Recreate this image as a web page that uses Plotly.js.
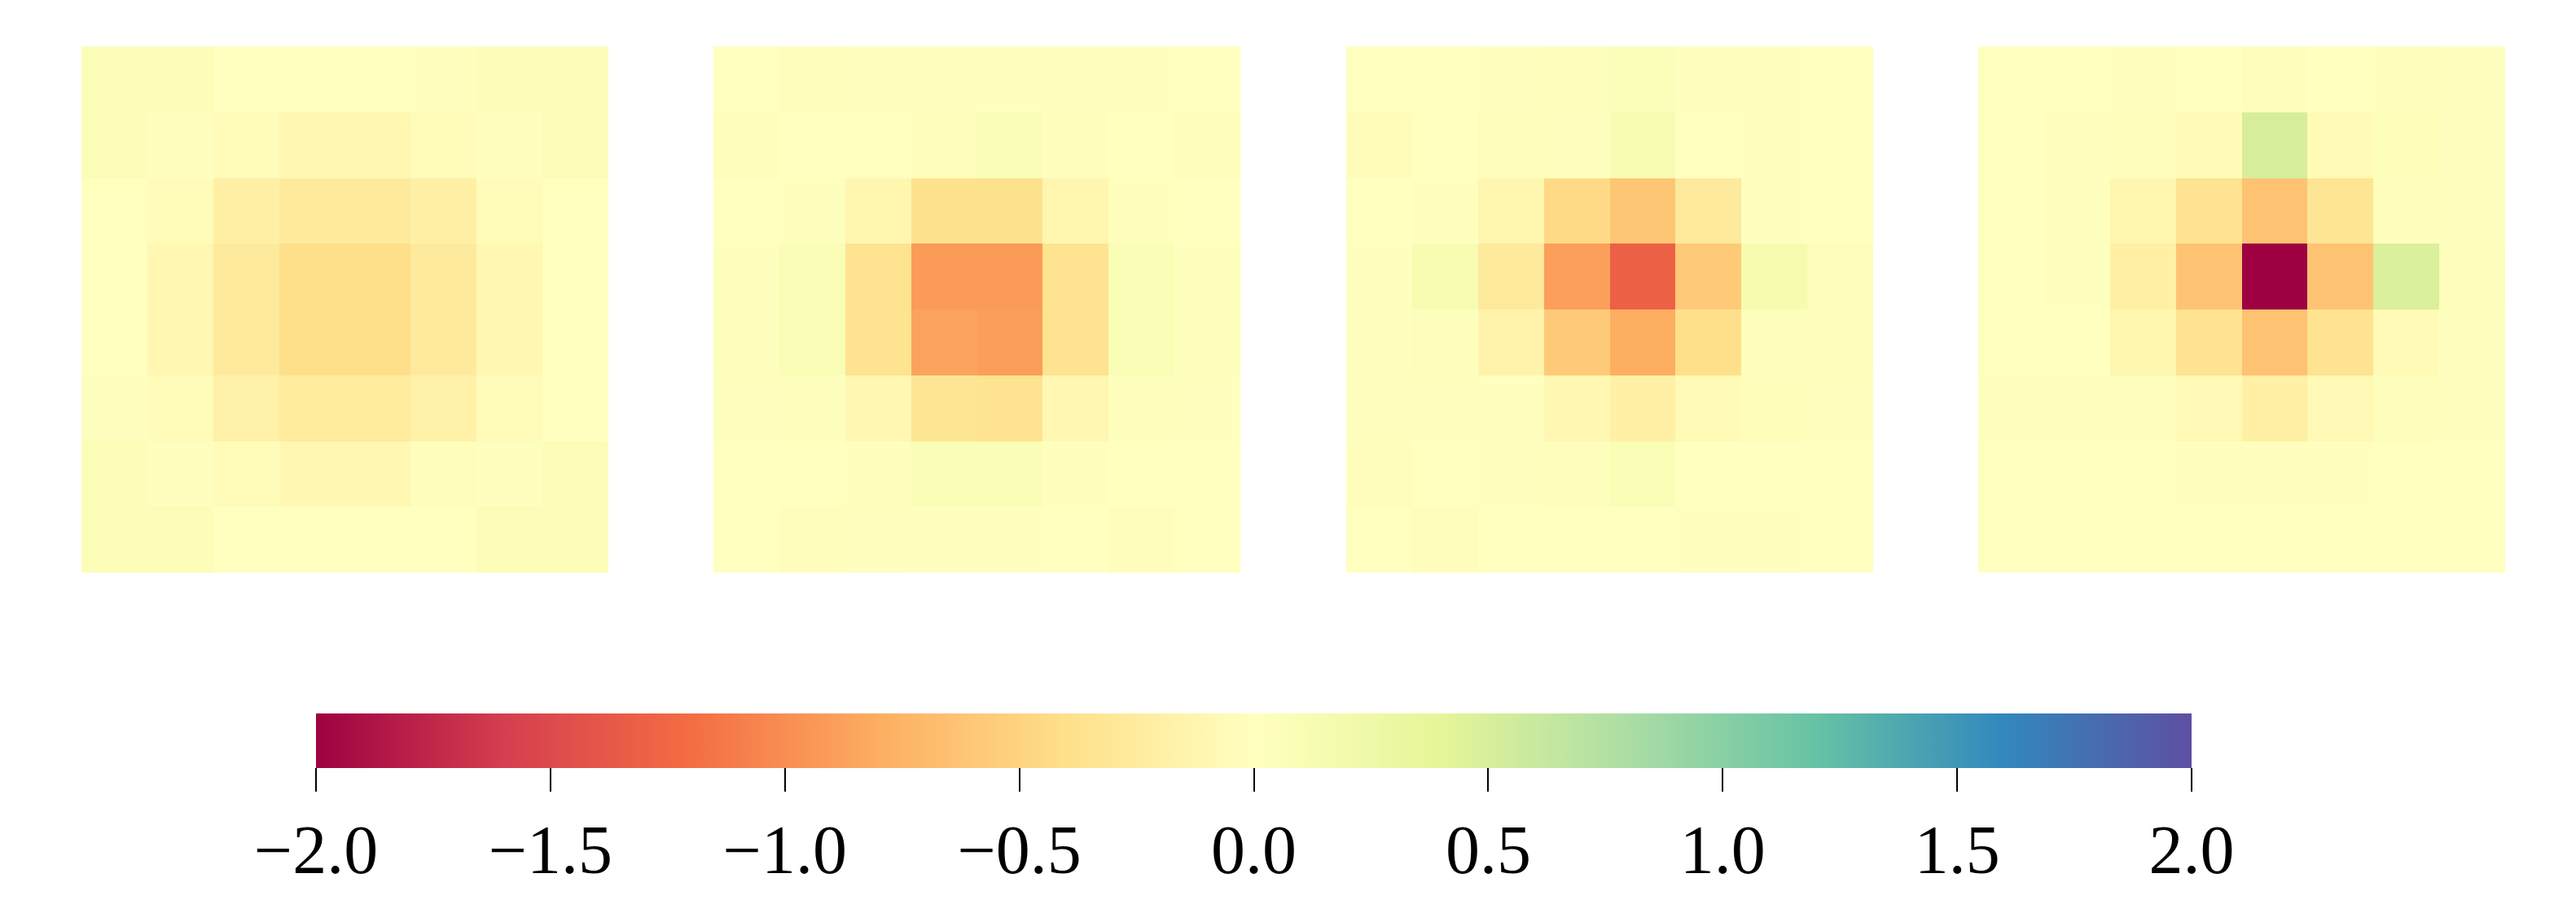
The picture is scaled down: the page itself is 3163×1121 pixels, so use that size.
<!DOCTYPE html>
<html>
<head>
<meta charset="utf-8">
<script src="https://cdn.plot.ly/plotly-3.0.1.min.js"></script>
<style>
  html, body { margin: 0; padding: 0; background: #fff; }
  #chart { width: 3163px; height: 1121px; }
</style>
</head>
<body>
<div id="chart"></div>
<script>
// 8x8 maps, row 0 = top row
const mapA = [
    [0.07, 0.07, 0.00, 0.00, 0.00, 0.01, 0.07, 0.07],
    [0.07, 0.01, -0.05, -0.10, -0.10, -0.05, 0.01, 0.07],
    [0.00, -0.05, -0.20, -0.27, -0.27, -0.20, -0.05, 0.00],
    [0.00, -0.10, -0.27, -0.40, -0.40, -0.27, -0.10, 0.00],
    [0.00, -0.10, -0.27, -0.40, -0.40, -0.27, -0.10, 0.00],
    [0.01, -0.05, -0.18, -0.26, -0.26, -0.18, -0.05, 0.00],
    [0.07, 0.01, -0.04, -0.10, -0.10, -0.03, 0.01, 0.07],
    [0.07, 0.07, 0.00, 0.00, 0.00, 0.00, 0.07, 0.07]
];
const mapB = [
    [0.00, -0.02, 0.01, 0.01, 0.01, 0.01, 0.01, 0.00],
    [-0.02, 0.00, 0.00, 0.04, 0.10, 0.02, 0.00, -0.02],
    [0.00, 0.02, -0.12, -0.38, -0.38, -0.12, 0.02, 0.00],
    [0.02, 0.10, -0.36, -0.92, -0.92, -0.36, 0.10, 0.02],
    [0.02, 0.10, -0.36, -0.87, -0.90, -0.36, 0.10, 0.02],
    [0.01, 0.02, -0.10, -0.33, -0.36, -0.10, 0.02, 0.01],
    [0.00, 0.00, 0.02, 0.09, 0.09, 0.02, 0.00, 0.00],
    [0.00, -0.02, -0.01, 0.01, 0.01, 0.00, -0.02, 0.00]
];
const mapC = [
    [0.00, 0.00, 0.01, 0.04, 0.06, 0.01, 0.01, 0.00],
    [-0.04, 0.00, 0.03, 0.01, 0.12, 0.00, 0.01, 0.00],
    [0.00, 0.01, -0.12, -0.45, -0.61, -0.27, 0.01, 0.00],
    [0.01, 0.13, -0.27, -0.89, -1.30, -0.58, 0.15, 0.03],
    [0.01, 0.03, -0.15, -0.58, -0.80, -0.40, 0.03, 0.03],
    [0.01, 0.01, 0.01, -0.10, -0.20, -0.07, 0.05, 0.01],
    [-0.02, 0.00, 0.01, 0.04, 0.10, 0.00, 0.00, 0.00],
    [0.00, -0.02, 0.00, 0.00, 0.00, -0.01, -0.01, 0.00]
];
const mapD = [
    [0.00, 0.00, 0.01, 0.00, 0.04, 0.00, 0.02, 0.01],
    [0.00, 0.01, 0.04, -0.07, 0.51, -0.07, 0.05, 0.01],
    [0.00, 0.01, -0.12, -0.36, -0.63, -0.34, -0.02, 0.01],
    [0.00, 0.01, -0.20, -0.63, -2.00, -0.63, 0.48, 0.03],
    [0.00, 0.00, -0.12, -0.36, -0.64, -0.36, -0.07, 0.01],
    [0.01, 0.01, 0.01, -0.08, -0.20, -0.08, 0.04, 0.01],
    [0.00, 0.00, 0.00, -0.01, -0.01, -0.01, 0.00, 0.00],
    [0.00, 0.00, 0.00, 0.00, 0.00, 0.00, 0.00, 0.00]
];

const tickValues = [-2.0, -1.5, -1.0, -0.5, 0.0, 0.5, 1.0, 1.5, 2.0];
const tickLabels = ['\u22122.0', '\u22121.5', '\u22121.0', '\u22120.5', '0.0', '0.5', '1.0', '1.5', '2.0'];

// matplotlib "Spectral"
const spectral = ['#9e0142', '#d53e4f', '#f46d43', '#fdae61', '#fee08b', '#ffffbf',
                  '#e6f598', '#abdda4', '#66c2a5', '#3288bd', '#5e4fa2'];
const colorscale = spectral.map((c, i) => [i / (spectral.length - 1), c]);

const W = 3163, H = 1121;
const panelLeft = [100, 876, 1653, 2429];
const panelWidth = 647;
const yDomain = [(H - 703) / H, (H - 57) / H];

const maps = [mapA, mapB, mapC, mapD];
const data = maps.map((z, i) => ({
    z,
    type: 'heatmap',
    xaxis: i === 0 ? 'x' : 'x' + (i + 1),
    yaxis: i === 0 ? 'y' : 'y' + (i + 1),
    colorscale,
    zmin: -2,
    zmax: 2,
    showscale: i === 0,
    hoverinfo: 'skip',
    colorbar: i === 0 ? {
        orientation: 'h',
        lenmode: 'pixels',
        len: 2303,
        thickness: 67,
        thicknessmode: 'pixels',
        x: (388 + 2691) / 2 / W,
        xanchor: 'center',
        y: (H - 876) / H,
        yanchor: 'top',
        xpad: 0,
        ypad: 0,
        outlinewidth: 0,
        ticks: 'outside',
        ticklen: 29,
        tickwidth: 2,
        tickcolor: '#000',
        tickmode: 'array',
        tickvals: tickValues,
        ticktext: tickLabels,
        tickfont: { family: 'Liberation Serif, DejaVu Serif, serif', size: 84, color: '#000' }
    } : undefined
}));

const layout = {
    width: W,
    height: H,
    margin: { l: 0, r: 0, t: 0, b: 0 },
    paper_bgcolor: '#fff',
    plot_bgcolor: '#fff',
    showlegend: false
};

maps.forEach((_, i) => {
    const sx = i === 0 ? '' : String(i + 1);
    layout['xaxis' + sx] = {
        domain: [panelLeft[i] / W, (panelLeft[i] + panelWidth) / W],
        visible: false,
        anchor: 'y' + sx,
        range: [-0.5, 7.5]
    };
    layout['yaxis' + sx] = {
        domain: yDomain,
        visible: false,
        anchor: 'x' + sx,
        range: [7.5, -0.5]
    };
});

Plotly.newPlot('chart', data, layout, { staticPlot: true });
</script>
</body>
</html>
